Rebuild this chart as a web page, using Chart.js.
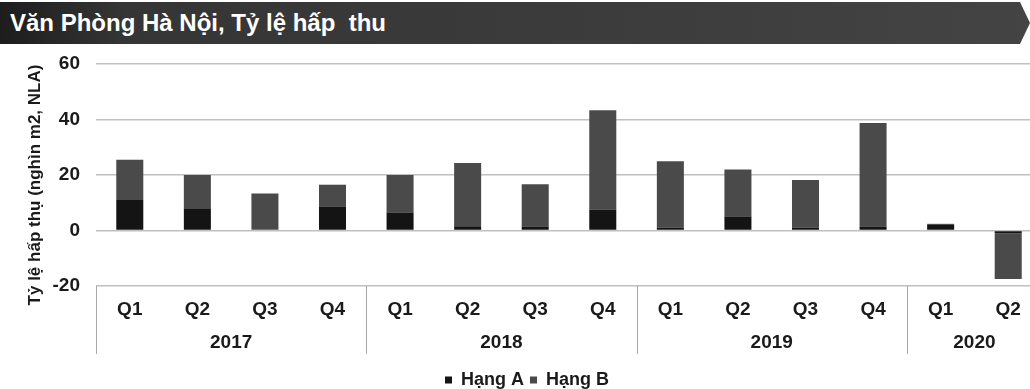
<!DOCTYPE html>
<html lang="vi">
<head>
<meta charset="utf-8">
<title>Văn Phòng Hà Nội, Tỷ lệ hấp thu</title>
<script src="https://cdn.jsdelivr.net/npm/chart.js@4.4.1/dist/chart.umd.min.js"></script>
<style>
  html, body { margin: 0; padding: 0; background: #fff; overflow: hidden; }
  body { width: 1030px; height: 389px; position: relative; }
  .tieu-de {
    position: absolute; left: 0; top: 2px; width: 1030px; height: 42px;
    background: linear-gradient(to right, #1d1d1d 0%, #353535 12%, #3c3c3c 60%, #444 100%);
    clip-path: polygon(0 0, 1020px 0, 1030px 50%, 1020px 100%, 0 100%);
    color: #fff; font: bold 24px "Liberation Sans", Arial, sans-serif;
    line-height: 42px; padding-left: 10px; box-sizing: border-box; white-space: pre;
    z-index: 2;
  }
  #khung { position: absolute; left: 0; top: 0; }
</style>
</head>
<body>
<div class="tieu-de">Văn Phòng Hà Nội, Tỷ lệ hấp  thu</div>
<canvas id="khung" width="1042" height="399"></canvas>
<script>
// Nhãn trục hoành: quý và năm
const quy = ["Q1", "Q2", "Q3", "Q4", "Q1", "Q2", "Q3", "Q4", "Q1", "Q2", "Q3", "Q4", "Q1", "Q2"];
const nam = ["2017", "2018", "2019", "2020"];
const soQuyMoiNam = [4, 4, 4, 2];

// Tỷ lệ hấp thụ (nghìn m2, NLA)
const hangA = [11, 8, 0, 8.5, 6.5, 1.3, 1.5, 7.5, 1, 5, 1, 1.5, 2, -1];
const hangB = [14.5, 12, 13.3, 8, 13.5, 23, 15.2, 35.8, 24, 17, 17.2, 37.2, 0.4, -16.5];

const tickTrucTung = [-20, 0, 20, 40, 60];
const tenTrucTung = "Tỷ lệ hấp thụ (nghìn m2, NLA)";

const FONT = "'Liberation Sans', Arial, sans-serif";
Chart.defaults.font.family = FONT;
Chart.defaults.color = "#1a1a1a";

// Vẽ hàng năm, các vạch phân cách dưới trục hoành và tên trục tung
const nhomNam = {
  id: "nhomNam",
  afterDraw(chart) {
    const { ctx, chartArea, scales } = chart;
    const x = scales.x;
    const dinh = chartArea.bottom;
    const day = dinh + 68;
    ctx.save();
    ctx.strokeStyle = "#a8a8a8";
    ctx.lineWidth = 1;
    let batDau = 0;
    const mocs = [0];
    soQuyMoiNam.forEach(n => { batDau += n; mocs.push(batDau); });
    mocs.forEach(m => {
      const px = Math.round(x.getPixelForValue(m - 0.5)) + 0.5;
      ctx.beginPath();
      ctx.moveTo(px, dinh);
      ctx.lineTo(px, day);
      ctx.stroke();
    });
    ctx.fillStyle = "#1a1a1a";
    ctx.font = "bold 19px " + FONT;
    ctx.textAlign = "center";
    ctx.textBaseline = "middle";
    nam.forEach((ten, i) => {
      const trai = x.getPixelForValue(mocs[i] - 0.5);
      const phai = x.getPixelForValue(mocs[i + 1] - 0.5);
      ctx.fillText(ten, (trai + phai) / 2, dinh + 57);
    });

    // tên trục tung, xoay dọc
    ctx.translate(35, 185);
    ctx.rotate(-Math.PI / 2);
    ctx.font = "bold 17px " + FONT;
    ctx.fillText(tenTrucTung, 0, 0);
    ctx.restore();
  }
};

new Chart(document.getElementById("khung"), {
  type: "bar",
  data: {
    labels: quy,
    datasets: [
      { label: "Hạng A", data: hangA, backgroundColor: "#141414" },
      { label: "Hạng B", data: hangB, backgroundColor: "#4a4a4a" }
    ]
  },
  options: {
    responsive: false,
    animation: false,
    layout: { padding: { left: 12, right: 0, top: 64, bottom: 0 } },
    datasets: { bar: { barPercentage: 0.4, categoryPercentage: 1 } },
    plugins: {
      title: { display: false },
      tooltip: { enabled: false },
      legend: {
        position: "bottom",
        labels: {
          boxWidth: 7, boxHeight: 7, padding: 6,
          font: { size: 18, weight: "bold" }, color: "#1a1a1a"
        }
      }
    },
    scales: {
      x: {
        stacked: true,
        grid: { display: false, drawTicks: false },
        border: { display: false },
        ticks: { font: { size: 19, weight: "bold" }, padding: 12, maxRotation: 0, autoSkip: false },
        afterFit(scale) { scale.height = 79; }
      },
      y: {
        stacked: true,
        min: -20, max: 60,
        afterBuildTicks(scale) { scale.ticks = tickTrucTung.map(v => ({ value: v })); },
        grid: { color: "#c0c0c0", lineWidth: 1.5, drawTicks: false },
        border: { display: false },
        ticks: { font: { size: 19, weight: "bold" }, padding: 16 },
        afterFit(scale) { scale.width = 84; }
      }
    }
  },
  plugins: [nhomNam]
});
</script>
</body>
</html>
